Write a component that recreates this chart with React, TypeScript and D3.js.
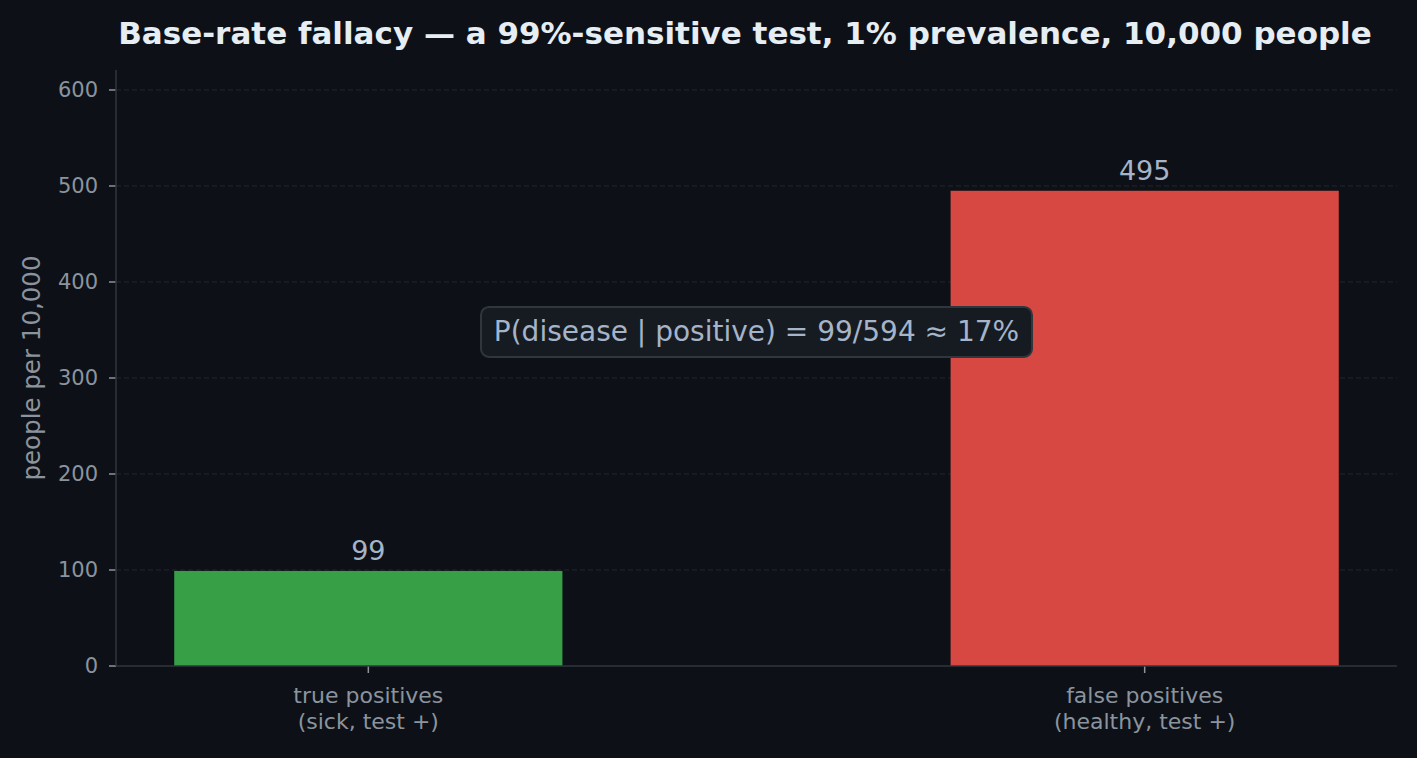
import React from "react";
import * as d3 from "d3";

const categories = ["true positives\n(sick, test +)", "false positives\n(healthy, test +)"];
const values = [99, 495];
const barColors = ["#37a047", "#d64841"];
const yTicks = [0, 100, 200, 300, 400, 500, 600];
const title = "Base-rate fallacy — a 99%-sensitive test, 1% prevalence, 10,000 people";
const yLabel = "people per 10,000";
const annotation = "P(disease | positive) = 99/594 ≈ 17%";
const annotationPos = { x: 0.5, y: 348 };

const W = 1417;
const H = 758;
const m = { left: 116, right: 1397, top: 70, bottom: 666 };

export default function App() {
  const x = d3.scaleLinear().domain([-0.325, 1.325]).range([m.left, m.right]);
  const y = d3.scaleLinear().domain([0, 620.8]).range([m.bottom, m.top]);
  const bw = 0.5;
  const font = "DejaVu Sans, sans-serif";
  const ax = x(annotationPos.x);
  const ay = y(annotationPos.y);
  return (
    <svg width={W} height={H} style={{ position: "absolute", left: 0, top: 0, background: "#0d1117" }} fontFamily={font}>
      <rect x={0} y={0} width={W} height={H} fill="#0d1117" />
      <text x={745} y={44} textAnchor="middle" fill="#e6edf3" fontSize={31} fontWeight="bold">{title}</text>
      {yTicks.map((t) => (
        <g key={t}>
          {t > 0 && (
            <line x1={m.left} x2={m.right} y1={y(t)} y2={y(t)} stroke="#21262d" strokeWidth={1} strokeDasharray="5,3" />
          )}
          <line x1={m.left - 7} x2={m.left} y1={y(t)} y2={y(t)} stroke="#8b949e" strokeWidth={1.5} />
          <text x={m.left - 18} y={y(t)} dy="0.35em" textAnchor="end" fill="#8b949e" fontSize={21}>{t}</text>
        </g>
      ))}
      {values.map((v, i) => (
        <g key={i}>
          <rect x={x(i - bw / 2)} y={y(v)} width={x(i + bw / 2) - x(i - bw / 2)} height={y(0) - y(v)} fill={barColors[i]} />
          <text x={x(i)} y={y(v) - 11} textAnchor="middle" fill="#a5b4c8" fontSize={27}>{v}</text>
          <line x1={x(i)} x2={x(i)} y1={m.bottom} y2={m.bottom + 7} stroke="#8b949e" strokeWidth={1.5} />
          {categories[i].split("\n").map((ln, k) => (
            <text key={k} x={x(i)} y={703 + k * 26} textAnchor="middle" fill="#8b949e" fontSize={22}>{ln}</text>
          ))}
        </g>
      ))}
      <line x1={m.left} x2={m.left} y1={m.top} y2={m.bottom} stroke="#30363d" strokeWidth={1.5} />
      <line x1={m.left} x2={m.right} y1={m.bottom} y2={m.bottom} stroke="#30363d" strokeWidth={1.5} />
      <text transform={`translate(40,${(m.top + m.bottom) / 2}) rotate(-90)`} textAnchor="middle" fill="#8b949e" fontSize={24.5}>{yLabel}</text>
      <rect x={ax - 275.5} y={ay - 25} width={551} height={50} rx={8} fill="#161b22" stroke="#30363d" strokeWidth={2} />
      <text x={ax} y={ay - 1} dy="0.35em" textAnchor="middle" fill="#a5b4c8" fontSize={28}>{annotation}</text>
    </svg>
  );
}
